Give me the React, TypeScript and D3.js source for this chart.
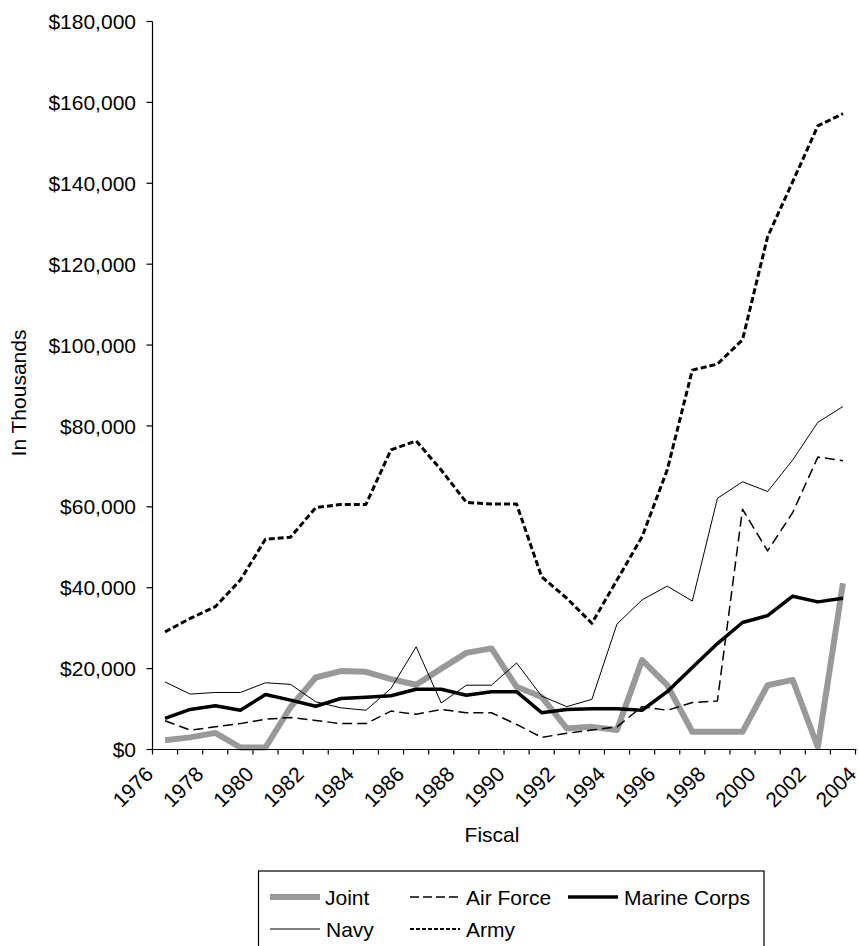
import React from "react";
import * as d3 from "d3";

const fiscalYears = [1976,1977,1978,1979,1980,1981,1982,1983,1984,1985,1986,1987,1988,1989,1990,1991,1992,1993,1994,1995,1996,1997,1998,1999,2000,2001,2002,2003];
const tickYears = [1976,1978,1980,1982,1984,1986,1988,1990,1992,1994,1996,1998,2000,2002,2004];
const yTicks = [0,20000,40000,60000,80000,100000,120000,140000,160000,180000];

const joint = [2300,3000,4100,500,500,10500,17800,19400,19200,17400,16000,20000,23900,25000,15500,13000,5200,5600,4800,22100,15900,4400,4400,4400,15900,17200,600,41100];
const airForce = [7100,4800,5600,6400,7500,7900,7200,6400,6400,9500,8700,9900,9100,9100,6200,3000,4000,4800,5600,10600,9700,11600,12000,59400,49100,58600,72300,71400];
const marineCorps = [7700,9900,10800,9700,13600,12200,10700,12600,12900,13300,14900,14900,13400,14300,14300,9100,9900,10100,10100,9700,14300,20300,26200,31400,33100,37900,36500,37400];
const navy = [16700,13700,14100,14100,16500,16100,11800,10300,9700,15100,25400,11500,15900,15900,21400,13200,10600,12400,31000,37000,40400,36700,62100,66200,63800,71600,80900,84800];
const army = [29100,32400,35300,41900,52000,52500,59800,60600,60600,74100,76300,69100,61100,60700,60700,42700,37400,31200,41900,52600,69100,93800,95300,101300,126800,140400,154200,157200];

const seriesNames = ["Joint","Air Force","Marine Corps","Navy","Army"];
const seriesValues = [joint, airForce, marineCorps, navy, army];
const seriesStyles = [
  { stroke: "#999999", width: 6, dash: "" },
  { stroke: "#000", width: 1.5, dash: "10,5" },
  { stroke: "#000", width: 3.5, dash: "" },
  { stroke: "#000", width: 1, dash: "" },
  { stroke: "#000", width: 3, dash: "6,3" },
];

const FONT = "'Liberation Sans', Arial, Helvetica, sans-serif";
const FS = 21;

export default function App() {
  const W = 859, H = 946;
  const x = d3.scaleLinear().domain([1976, 2004]).range([152.5, 855.5]);
  const y = d3.scaleLinear().domain([0, 180000]).range([749.5, 21.5]);
  const line = d3.line<number>()
    .x((_, i) => x(fiscalYears[i] + 0.5))
    .y((v) => y(v));
  const fmt = (v: number) => "$" + d3.format(",")(v);
  const allTicks = d3.range(1976, 2005);

  const legendItems = [
    { i: 0, sx: 270, tx: 325, cy: 897 },
    { i: 1, sx: 410, tx: 466, cy: 897 },
    { i: 2, sx: 568, tx: 624, cy: 897 },
    { i: 3, sx: 270, tx: 326, cy: 929 },
    { i: 4, sx: 410, tx: 466, cy: 929 },
  ];

  return (
    <svg width={W} height={H} style={{ position: "absolute", left: 0, top: 0, background: "#fff" }} fontFamily={FONT}>
      <rect x={0} y={0} width={W} height={H} fill="#fff" />
      {seriesValues.map((vals, k) => (
        <path key={k} d={line(vals) || ""} fill="none" stroke={seriesStyles[k].stroke}
          strokeWidth={seriesStyles[k].width} strokeDasharray={seriesStyles[k].dash || undefined}
          strokeLinejoin="round" />
      ))}
      <line x1={x(1976)} x2={x(1976)} y1={y(0)} y2={y(180000)} stroke="#000" strokeWidth={1.2} />
      {yTicks.map((t) => (
        <g key={t}>
          <line x1={x(1976) - 6} x2={x(1976)} y1={y(t)} y2={y(t)} stroke="#000" strokeWidth={1.2} />
          <text x={136} y={y(t)} dy="0.36em" textAnchor="end" fontSize={FS} fill="#000">{fmt(t)}</text>
        </g>
      ))}
      <line x1={x(1976)} x2={x(2004) + 1} y1={y(0)} y2={y(0)} stroke="#000" strokeWidth={1.2} />
      {allTicks.map((t) => (
        <line key={t} x1={x(t)} x2={x(t)} y1={y(0)} y2={y(0) + 5} stroke="#000" strokeWidth={1.2} />
      ))}
      {tickYears.map((t) => (
        <text key={t} transform={`translate(${x(t) + 2},${y(0) + 26}) rotate(-45)`} textAnchor="end" fontSize={FS} fill="#000">{t}</text>
      ))}
      <text x={492} y={842} textAnchor="middle" fontSize={FS} fill="#000">Fiscal</text>
      <text transform={`translate(25.5,393) rotate(-90)`} textAnchor="middle" fontSize={FS} fill="#000">In Thousands</text>
      <rect x={258.5} y={871} width={505.5} height={100} fill="none" stroke="#000" strokeWidth={1.2} />
      {legendItems.map((it) => {
        const st = seriesStyles[it.i];
        return (
          <g key={it.i}>
            <line x1={it.sx} x2={it.sx + 50} y1={it.cy} y2={it.cy} stroke={st.stroke}
              strokeWidth={it.i === 4 ? 2 : st.width} strokeDasharray={it.i === 4 ? "4,2" : (st.dash ? "9,4" : undefined)} />
            <text x={it.tx} y={it.cy + 7.5} fontSize={FS} fill="#000">{seriesNames[it.i]}</text>
          </g>
        );
      })}
    </svg>
  );
}
